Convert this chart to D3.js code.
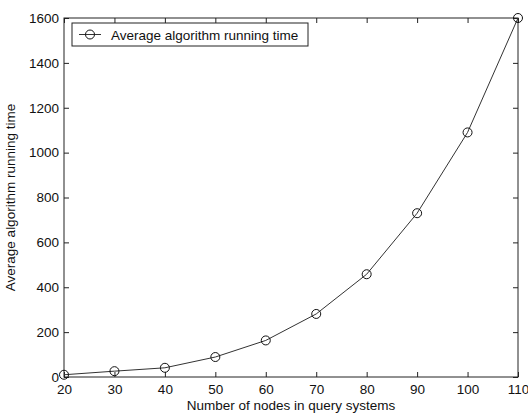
<!DOCTYPE html>
<html lang="en">
<head>
    <meta charset="UTF-8">
    <script src="https://d3js.org/d3.v7.min.js"></script>
    <title>Average algorithm running time</title>
    <style>
        body { margin: 0; background: #fff; }
        text { font-family: "Liberation Sans", Arial, sans-serif; fill: #111; }
    </style>
</head>
<body>
    <div id="chart"></div>
    <script>
        // values
        const nodes = [20, 30, 40, 50, 60, 70, 80, 90, 100, 110];
        const runTime = [10, 26, 41, 89, 163, 281, 458, 730, 1090, 1600];
        const xTicks = [20, 30, 40, 50, 60, 70, 80, 90, 100, 110];
        const yTicks = [0, 200, 400, 600, 800, 1000, 1200, 1400, 1600];
        const seriesName = "Average algorithm running time";

        const W = 528, H = 415;
        const margin = { top: 18, right: 10, bottom: 38, left: 64 },
            width = W - margin.left - margin.right,
            height = H - margin.top - margin.bottom;
        const fs = 13.5;

        const svg = d3.select("#chart")
            .append("svg")
            .attr("width", W)
            .attr("height", H)
            .append("g")
            .attr("transform", `translate(${margin.left},${margin.top})`);

        const x = d3.scaleLinear().domain([20, 110]).range([0, width]);
        const y = d3.scaleLinear().domain([0, 1600]).range([height, 0]);

        // box
        svg.append("rect")
            .attr("width", width).attr("height", height)
            .attr("fill", "none").attr("stroke", "#222").attr("stroke-width", 1);

        const styleAxis = g => {
            g.select(".domain").remove();
            g.selectAll(".tick line").attr("stroke", "#222");
            g.selectAll(".tick text").attr("font-size", fs).attr("fill", "#111");
        };

        // bottom / left axes with inward ticks
        svg.append("g")
            .attr("transform", `translate(0,${height})`)
            .call(d3.axisBottom(x).tickValues(xTicks).tickFormat(d3.format("d"))
                .tickSizeInner(-5).tickSizeOuter(0).tickPadding(7))
            .call(styleAxis);
        svg.append("g")
            .call(d3.axisLeft(y).tickValues(yTicks).tickFormat(d3.format("d"))
                .tickSizeInner(-5).tickSizeOuter(0).tickPadding(5))
            .call(styleAxis);
        // top / right mirrored ticks
        svg.append("g")
            .call(d3.axisTop(x).tickValues(xTicks).tickSizeInner(-5).tickSizeOuter(0).tickFormat(""))
            .call(styleAxis);
        svg.append("g")
            .attr("transform", `translate(${width},0)`)
            .call(d3.axisRight(y).tickValues(yTicks).tickSizeInner(-5).tickSizeOuter(0).tickFormat(""))
            .call(styleAxis);

        const data = nodes.map((n, i) => ({ n: n, t: runTime[i] }));

        svg.append("path")
            .datum(data)
            .attr("fill", "none")
            .attr("stroke", "#333")
            .attr("stroke-width", 1)
            .attr("d", d3.line().x(d => x(d.n)).y(d => y(d.t)));

        svg.selectAll(".pt")
            .data(data)
            .join("circle")
            .attr("class", "pt")
            .attr("cx", d => x(d.n))
            .attr("cy", d => y(d.t))
            .attr("r", 4.5)
            .attr("fill", "none")
            .attr("stroke", "#111")
            .attr("stroke-width", 1);

        // axis titles
        svg.append("text")
            .attr("x", width / 2)
            .attr("y", height + 33)
            .attr("text-anchor", "middle")
            .attr("font-size", fs)
            .text("Number of nodes in query systems");
        svg.append("text")
            .attr("transform", `translate(${-49},${height / 2}) rotate(-90)`)
            .attr("text-anchor", "middle")
            .attr("font-size", fs)
            .text(seriesName);

        // legend
        const lg = svg.append("g").attr("transform", "translate(8,5)");
        lg.append("rect")
            .attr("width", 236).attr("height", 23)
            .attr("fill", "#fff").attr("stroke", "#222");
        lg.append("line")
            .attr("x1", 7).attr("x2", 29).attr("y1", 11.5).attr("y2", 11.5)
            .attr("stroke", "#333");
        lg.append("circle")
            .attr("cx", 18).attr("cy", 11.5).attr("r", 4.5)
            .attr("fill", "none").attr("stroke", "#111");
        lg.append("text")
            .attr("x", 39).attr("y", 16.5)
            .attr("font-size", fs)
            .text(seriesName);
    </script>
</body>
</html>
